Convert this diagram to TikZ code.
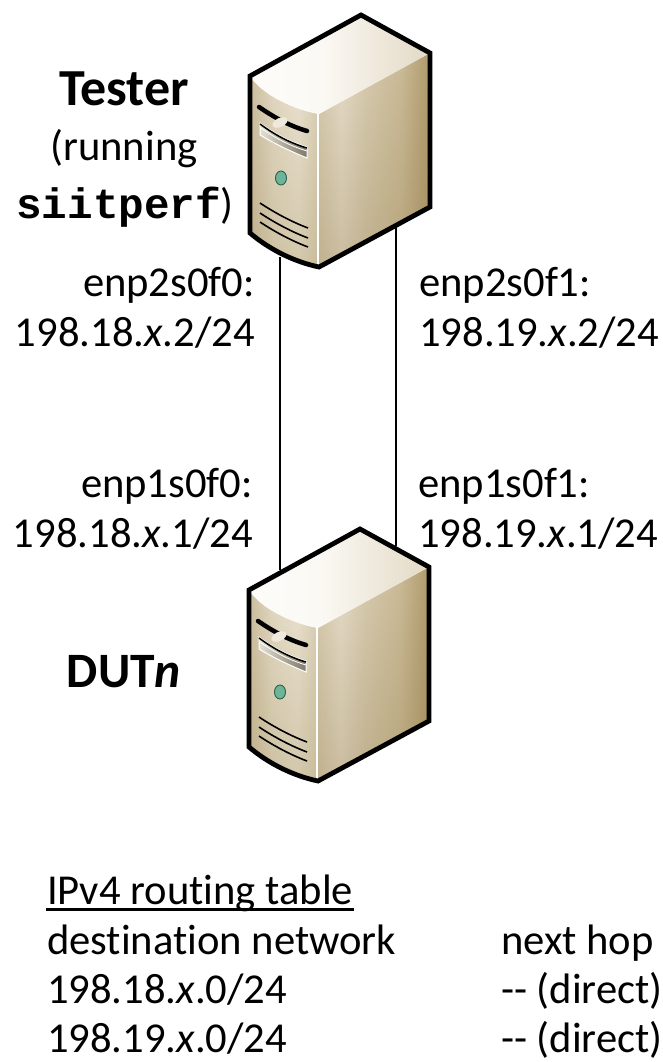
\documentclass[tikz,border=0pt]{standalone}
\usepackage{fontspec}
\setmainfont{Carlito}[Ligatures=NoCommon]
\setmonofont{Liberation Mono}
\usetikzlibrary{fadings}
\definecolor{frontA}{HTML}{CBBD9F}
\definecolor{frontB}{HTML}{E2D8C2}
\definecolor{frontC}{HTML}{EAE2D0}
\definecolor{frontD}{HTML}{D9CEB4}
\definecolor{sideA}{HTML}{D8CCB1}
\definecolor{sideB}{HTML}{E6DCC9}
\definecolor{sideC}{HTML}{D7CBB0}
\definecolor{sideD}{HTML}{CBBB97}
\definecolor{sideE}{HTML}{B09A6C}
\definecolor{topA}{HTML}{F4F0E6}
\definecolor{topB}{HTML}{FDFCF9}
\definecolor{topC}{HTML}{FBF9F4}
\definecolor{topD}{HTML}{EFE9DC}
\definecolor{topE}{HTML}{E2DAC6}
\definecolor{trayA}{HTML}{E4E0D4}
\definecolor{trayB}{HTML}{B0AA9A}
\definecolor{trayC}{HTML}{7F7A6C}
\definecolor{ledgreen}{HTML}{6DB598}
\definecolor{ledrim}{HTML}{2F5F4C}
\definecolor{dimfront}{HTML}{A89868}
\definecolor{dimside}{HTML}{8A7440}
\pgfdeclarehorizontalshading{serverfront}{100bp}{color(0bp)=(frontA); color(25bp)=(frontA); color(42bp)=(frontB); color(60bp)=(frontC); color(75bp)=(frontD); color(100bp)=(frontD)}
\pgfdeclarehorizontalshading{serverside}{100bp}{color(0bp)=(sideA); color(25bp)=(sideA); color(35bp)=(sideB); color(46bp)=(sideC); color(62bp)=(sideD); color(75bp)=(sideE); color(100bp)=(sideE)}
\pgfdeclarehorizontalshading{servertop}{100bp}{color(0bp)=(topA); color(25bp)=(topB); color(45bp)=(topC); color(60bp)=(topD); color(75bp)=(topE); color(100bp)=(topE)}
\pgfdeclarehorizontalshading{servertray}{100bp}{color(0bp)=(trayA); color(25bp)=(trayA); color(50bp)=(trayB); color(75bp)=(trayC); color(100bp)=(trayC)}
\tikzset{
  server/.pic={
    \shade[shading=serverfront] (250,76) .. controls (262,95) and (295,110) .. (319,114) -- (319,267) .. controls (295,262) and (270,250) .. (250,233) -- cycle;
    \fill[dimfront,opacity=.35,path fading=north] (250,76) -- (319,76) -- (319,267) .. controls (295,262) and (270,250) .. (250,233) -- cycle;
    \shade[shading=serverside] (319,114) -- (430,53) -- (430,207) -- (319,267) -- cycle;
    \fill[dimside,opacity=.3,path fading=north] (319,53) -- (430,53) -- (430,207) -- (319,267) -- cycle;
    \shade[shading=servertop] (250,76) .. controls (262,95) and (295,110) .. (319,114) -- (430,53) -- (361,15) -- cycle;
    \draw[white,line width=1.2pt] (318,114) -- (318,267);
    \draw[line width=4.5pt,line cap=round] (259,107) .. controls (275,118) and (290,126) .. (307,131);
    \fill[topD,rotate around={25:(280,122.5)}] (280,122.5) ellipse [x radius=8pt,y radius=4.5pt];
    \shade[shading=servertray,draw=white,line width=1pt] (260,123) .. controls (275,134) and (290,142) .. (307,147) -- (307,158) .. controls (290,151) and (275,144) .. (260,135) -- cycle;
    \draw[line width=1.5pt] (260,124) .. controls (275,135) and (290,143) .. (307,148);
    \draw[white,line width=.8pt] (261,128) .. controls (275,138) and (290,146) .. (307,151);
    \fill[ledgreen] (281,178) ellipse [x radius=5.5pt,y radius=7pt];
    \draw[ledrim,line width=.9pt] (281,178) ellipse [x radius=5.5pt,y radius=7pt];
    \foreach \y in {0,10,19} {
      \draw[line width=1.6pt] (260,203+\y) .. controls (275,213+\y) and (292,222+\y) .. (308,228+\y);
    }
    \draw[line width=4.8pt,line join=miter] (361,15) -- (430,53) -- (430,207) -- (319,267) .. controls (295,262) and (270,250) .. (250,233) -- (250,76) -- cycle;
    \coordinate (-botl) at (280,257);
    \coordinate (-botr) at (396,226);
    \coordinate (-topl) at (281,56);
    \coordinate (-topr) at (397,32);
  },
  cable/.style={draw,line width=2.8pt},
  label/.style={font=\fontsize{42.6}{50.5}\selectfont,inner sep=0pt},
  tablecol/.style={font=\fontsize{42.6}{49.4}\selectfont,inner sep=0pt,align=left,anchor=north west},
  title/.style={font=\fontsize{#1}{50}\selectfont\bfseries,inner sep=0pt,anchor=base},
}
\begin{document}
\begin{tikzpicture}[x=1pt,y=-1pt]
  \useasboundingbox (0,0) rectangle (662,1062);
  \fill[white] (0,0) rectangle (662,1062);
  \pic (tester) at (0,0) {server};
  \pic (dut) at (-1,514) {server};
  \path[cable] (tester-botl) -- (dut-topl);
  \path[cable] (tester-botr) -- (dut-topr);
  \node[title=52] (testername) at (124,106) {Tester};
  \node[label,anchor=base] (running) at (124,160) {(running};
  \node[label,anchor=base east] (tool) at (234,218) {\texttt{\bfseries siitperf})};
  \node[title=49.5] (dutname) at (124,687) {DUT\textit{n}};
  \node[label,align=right,anchor=east] (testerleft) at (255,308) {enp2s0f0:\\198.18.\textit{x}.2/24};
  \node[label,align=left,anchor=west] (testerright) at (419,308) {enp2s0f1:\\198.19.\textit{x}.2/24};
  \node[label,align=right,anchor=east] (dutleft) at (253,509) {enp1s0f0:\\198.18.\textit{x}.1/24};
  \node[label,align=left,anchor=west] (dutright) at (418,509) {enp1s0f1:\\198.19.\textit{x}.1/24};
  \node[tablecol] (routes) at (47,875) {\rlap{\hspace{-1pt}\rule[-5.8pt]{308pt}{2.5pt}}IPv4 routing table\\destination network\\198.18.\textit{x}.0/24\\198.19.\textit{x}.0/24};
  \node[tablecol] (hops) at (501,924.4) {next hop\\{-}{-} (direct)\\{-}{-} (direct)};
\end{tikzpicture}
\end{document}
